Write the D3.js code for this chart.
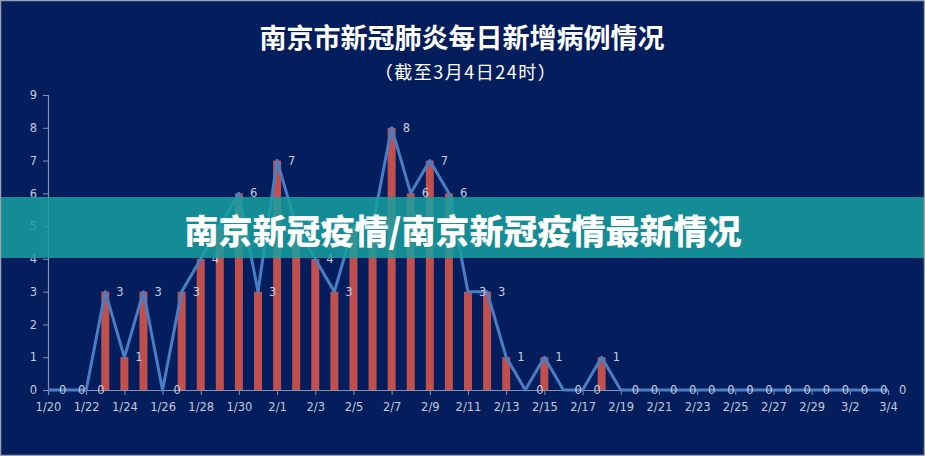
<!DOCTYPE html>
<html>
<head>
<meta charset="utf-8">
<script src="https://cdn.jsdelivr.net/npm/d3@7"></script>
<style>
  html, body { margin: 0; padding: 0; background: #041d5c; }
  svg { display: block; }
</style>
</head>
<body>
<div id="chart"></div>
<script>
var dates = ['1/20','1/21','1/22','1/23','1/24','1/25','1/26','1/27','1/28','1/29','1/30','1/31',
    '2/1','2/2','2/3','2/4','2/5','2/6','2/7','2/8','2/9','2/10','2/11','2/12','2/13','2/14','2/15',
    '2/16','2/17','2/18','2/19','2/20','2/21','2/22','2/23','2/24','2/25','2/26','2/27','2/28','2/29',
    '3/1','3/2','3/3','3/4'];
var newCases = [0,0,0,3,1,3,0,3,4,5,6,3,
    7,5,4,3,5,5,8,6,7,6,3,3,1,0,1,
    0,0,1,0,0,0,0,0,0,0,0,0,0,0,
    0,0,0,0];
var yTicks = [0,1,2,3,4,5,6,7,8,9];
var title = '南京市新冠肺炎每日新增病例情况';
var subtitle = '（截至3月4日24时）';
var banner = '南京新冠疫情/南京新冠疫情最新情况';

var W = 925, H = 456;
var svg = d3.select('#chart').append('svg').attr('width', W).attr('height', H);

svg.append('rect').attr('width', W).attr('height', H).attr('fill', '#041d5c');

var x = d3.scalePoint().domain(dates).range([48, 888]);
var y = d3.scaleLinear().domain([0, 9]).range([390, 95]);

// titles
svg.append('text').attr('x', 462).attr('y', 36)
    .attr('text-anchor', 'middle').attr('dominant-baseline', 'central')
    .attr('font-family', '"Noto Sans CJK SC", sans-serif').attr('font-weight', 'bold')
    .attr('font-size', 27).attr('fill', '#ffffff').text(title);
svg.append('text').attr('x', 466).attr('y', 71)
    .attr('text-anchor', 'middle').attr('dominant-baseline', 'central')
    .attr('font-family', '"Noto Sans CJK SC", sans-serif')
    .attr('font-size', 18).attr('letter-spacing', 1.5).attr('fill', '#ffffff').text(subtitle);

// bars
svg.append('g').selectAll('rect').data(newCases).enter().append('rect')
    .attr('x', function(d, i){ return x(dates[i]) - 4; })
    .attr('y', function(d){ return y(d); })
    .attr('width', 8)
    .attr('height', function(d){ return y(0) - y(d); })
    .attr('fill', '#c0504d');

// y axis
var yAxis = svg.append('g').attr('transform', 'translate(48,0)')
    .call(d3.axisLeft(y).tickValues(yTicks).tickSize(5).tickPadding(6).tickFormat(d3.format('d')));
// x axis, label every other day
var xAxis = svg.append('g').attr('transform', 'translate(0,390)')
    .call(d3.axisBottom(x).tickValues(dates.filter(function(d, i){ return i % 2 == 0; }))
        .tickSize(5).tickPadding(8));
[yAxis, xAxis].forEach(function(a){
    a.select('.domain').attr('stroke', '#8790ad').attr('stroke-width', 1.2);
    a.selectAll('.tick line').attr('stroke', '#8790ad');
    a.selectAll('.tick text').attr('fill', '#c3c8da')
        .attr('font-family', '"DejaVu Sans", sans-serif').attr('font-size', 11.5);
});

// line
var line = d3.line()
    .x(function(d, i){ return x(dates[i]); })
    .y(function(d){ return y(d); });
svg.append('path').datum(newCases).attr('d', line)
    .attr('fill', 'none').attr('stroke', '#4a7ec4').attr('stroke-width', 3)
    .attr('stroke-linejoin', 'round');

// value labels
svg.append('g').selectAll('text').data(newCases).enter().append('text')
    .attr('x', function(d, i){ return x(dates[i]) + 11; })
    .attr('y', function(d){ return y(d); })
    .attr('dominant-baseline', 'central')
    .attr('font-family', '"DejaVu Sans", sans-serif').attr('font-size', 11.5)
    .attr('fill', '#c8ccdc')
    .text(function(d){ return d; });

// overlay banner
svg.append('rect').attr('x', 0).attr('y', 197).attr('width', W).attr('height', 61)
    .attr('fill', 'rgb(24,160,160)').attr('opacity', 0.85);
svg.append('text').attr('x', 463).attr('y', 229)
    .attr('text-anchor', 'middle').attr('dominant-baseline', 'central')
    .attr('font-family', '"Noto Sans CJK SC", sans-serif').attr('font-weight', 900)
    .attr('font-size', 34).attr('fill', '#ffffff').text(banner);

// outer border
svg.append('rect').attr('x', 0.5).attr('y', 0.5).attr('width', W - 1).attr('height', H - 1)
    .attr('fill', 'none').attr('stroke', '#9aa1ad').attr('stroke-width', 1.5);
</script>
</body>
</html>
